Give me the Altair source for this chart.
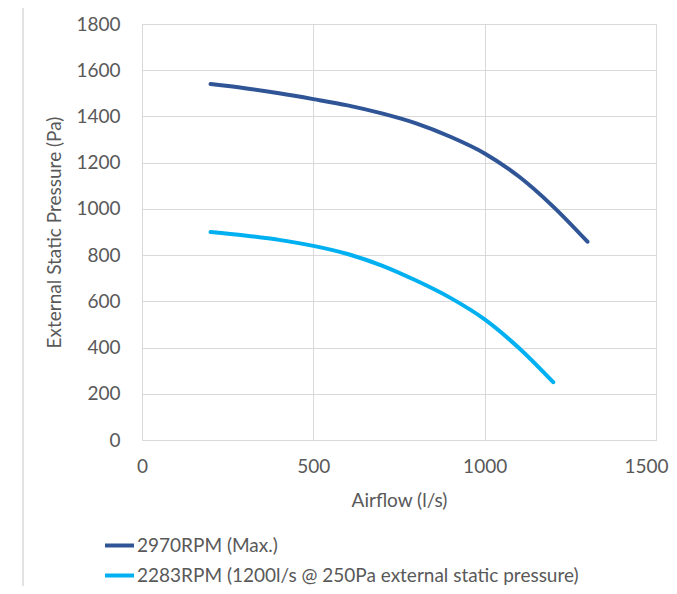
import altair as alt
import pandas as pd

series_max = "2970RPM (Max.)"
series_low = "2283RPM (1200l/s @ 250Pa external static pressure)"

airflow_max = [200, 300, 400, 500, 600, 700, 800, 900, 1000, 1100, 1200, 1300]
pressure_max = [1540, 1522, 1500, 1475, 1448, 1413, 1370, 1312, 1240, 1140, 1010, 858]

airflow_low = [200, 300, 400, 500, 600, 700, 800, 900, 1000, 1100, 1200]
pressure_low = [900, 885, 866, 840, 805, 755, 690, 615, 522, 398, 250]

rows = []
for a, p in zip(airflow_max, pressure_max):
    rows.append({"airflow": a, "pressure": p, "series": series_max})
for a, p in zip(airflow_low, pressure_low):
    rows.append({"airflow": a, "pressure": p, "series": series_low})
df = pd.DataFrame(rows)

FONT = "Lato"
TXT = "#595959"

lines = alt.Chart(df).mark_line(strokeWidth=4, interpolate="monotone", strokeCap="round").encode(
    x=alt.X("airflow:Q", title="Airflow (l/s)",
            scale=alt.Scale(domain=[0, 1500], nice=False),
            axis=alt.Axis(values=[0, 500, 1000, 1500], format="d", labelPadding=17,
                          titlePadding=15, labelFlush=False,
                          labelAlign=alt.ExprRef(expr="datum.value == 1500 ? 'right' : 'center'"),
                          labelOffset=alt.ExprRef(expr="datum.value == 1500 ? 12 : 0"))),
    y=alt.Y("pressure:Q", title="External Static Pressure (Pa)",
            scale=alt.Scale(domain=[0, 1800], nice=False),
            axis=alt.Axis(values=list(range(0, 1801, 200)), format="d", labelPadding=22,
                          titlePadding=11, labelFlush=False)),
    color=alt.Color("series:N",
                    scale=alt.Scale(domain=[series_max, series_low], range=["#2F5597", "#00B0F0"]),
                    legend=alt.Legend(title=None, orient="none", legendX=-39, legendY=505,
                                      symbolType="stroke", symbolSize=841, symbolStrokeWidth=4,
                                      labelFontSize=19, labelColor=TXT, labelFont=FONT,
                                      labelOffset=1, rowPadding=3, padding=0,
                                      labelLimit=600)),
)

border = alt.Chart(pd.DataFrame({"k": [0]})).mark_rect(fill=None, stroke="#d9d9d9", strokeWidth=1.5).encode(
    x=alt.value(-119), x2=alt.value(700), y=alt.value(-20), y2=alt.value(700)
)

chart = alt.layer(border, lines).properties(
    width=514, height=416,
    background="white",
    autosize=alt.AutoSizeParams(type="none"),
    padding={"left": 134, "top": 16, "right": 13, "bottom": 146},
).configure_view(stroke="#d9d9d9", strokeWidth=1).configure_axis(
    grid=True, gridColor="#d9d9d9", gridWidth=1, domainColor="#d9d9d9", domainWidth=1,
    ticks=False, labelFont=FONT, titleFont=FONT, labelFontSize=19, titleFontSize=19,
    labelColor=TXT, titleColor=TXT, titleFontWeight="normal",
)

chart.save("out.html", embed_options={"renderer": "svg", "actions": False})
